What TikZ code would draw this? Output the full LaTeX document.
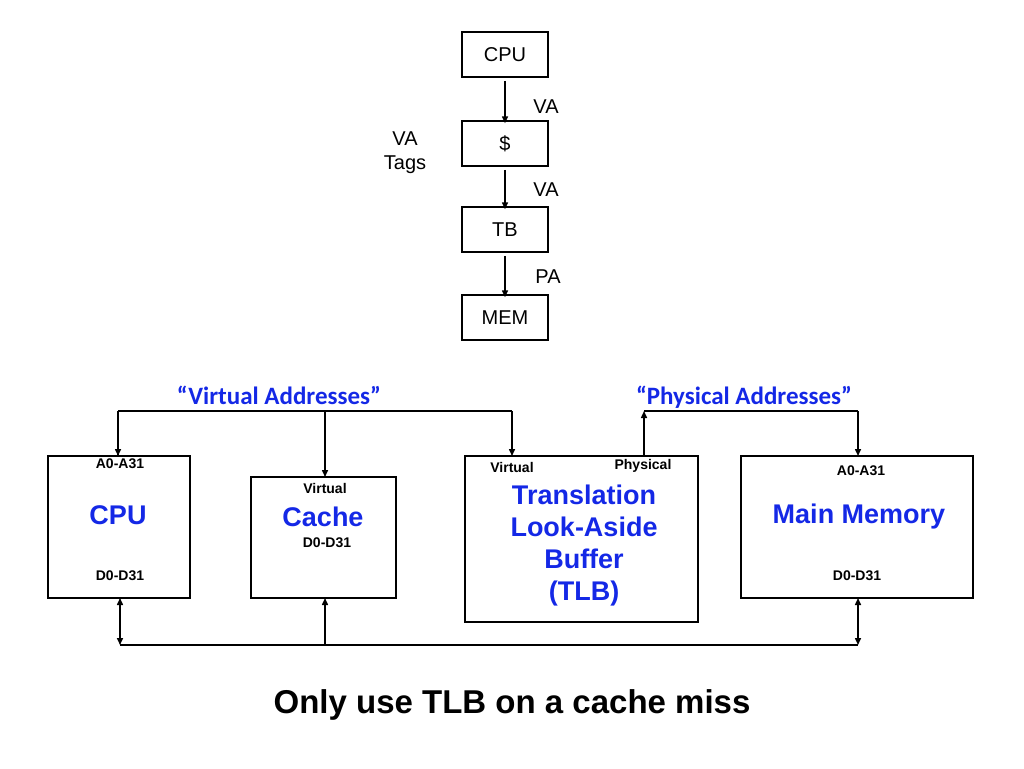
\documentclass[tikz,border=0pt]{standalone}
\usepackage{fontspec}
\setmainfont{Liberation Sans}
\newfontfamily\carl{Carlito}
\usetikzlibrary{arrows.meta}
\definecolor{tblue}{RGB}{20,40,230}
\begin{document}
\begin{tikzpicture}[x=1pt,y=-1pt,
  box/.style={draw,line width=1.5pt},
  arr/.style={-{Triangle[length=7pt,width=6pt]},line width=1.5pt},
  dar/.style={{Triangle[length=7pt,width=6pt]}-{Triangle[length=7pt,width=6pt]},line width=1.5pt},
  lbl/.style={font=\fontsize{20}{24}\selectfont},
  sm/.style={font=\bfseries\fontsize{14}{16}\selectfont},
  big/.style={font=\bfseries\fontsize{27}{31}\selectfont,text=tblue,align=center}]
\useasboundingbox (0,0) rectangle (1024,768);
% top chain
\node[box,minimum width=86pt,minimum height=45pt,lbl] (cpu1) at (505,54.5) {CPU};
\node[box,minimum width=86pt,minimum height=45pt,lbl] (c1) at (505,143.5) {\$};
\node[box,minimum width=86pt,minimum height=45pt,lbl] (tb) at (505,229.5) {TB};
\node[box,minimum width=86pt,minimum height=45pt,lbl] (mem) at (505,317.5) {MEM};
\draw[arr] (cpu1.south)++(0,3) -- ([yshift=-3]c1.north);
\draw[arr] (c1.south)++(0,3) -- ([yshift=-3]tb.north);
\draw[arr] (tb.south)++(0,3) -- ([yshift=-3]mem.north);
\node[lbl] (va1) at (546,107) {VA};
\node[lbl] (va2) at (546,190) {VA};
\node[lbl] (pa) at (548,277) {PA};
\node[lbl,align=center] (vat) at (405,153) {VA\\Tags};
% bottom
\node[font=\carl\bfseries\fontsize{25}{28}\selectfont,text=tblue] (vad) at (279,395) {“Virtual Addresses”};
\node[font=\carl\bfseries\fontsize{25}{28}\selectfont,text=tblue] (pad) at (744,397) {“Physical Addresses”};
\draw[box] (48,456) rectangle (190,598);
\coordinate (cpuT) at (118,456); \coordinate (cpuB) at (120,598);
\node[sm] at (120,464) {A0-A31};
\node[big] at (118,515) {CPU};
\node[sm] at (120,576) {D0-D31};
\draw[box] (251,477) rectangle (396,598);
\coordinate (caT) at (325,477); \coordinate (caB) at (325,598);
\node[sm] at (325,488) {Virtual};
\node[big] at (323,517) {Cache};
\node[sm] at (327,543) {D0-D31};
\draw[box] (465,456) rectangle (698,622);
\coordinate (tlV) at (512,456); \coordinate (tlP) at (644,456);
\node[sm] at (512,467) {Virtual};
\node[sm] at (643,466) {Physical};
\node[big,font=\bfseries\fontsize{27}{32}\selectfont] at (584,546) {Translation\\Look-Aside\\Buffer\\(TLB)};
\draw[box] (741,456) rectangle (973,598);
\coordinate (mmT) at (858,456); \coordinate (mmB) at (858,598);
\node[sm] at (861,471) {A0-A31};
\node[big] at (859,517) {Main Memory};
\node[sm] at (857,576) {D0-D31};
% buses
\coordinate (a1) at (118,411); \coordinate (a2) at (325,411); \coordinate (a3) at (512,411);
\coordinate (p1) at (644,411); \coordinate (p2) at (858,411);
\draw[line width=1.5pt] (a1) -- (a3);
\draw[arr] (a1) -- (cpuT) ; 
\draw[line width=1.5pt] (cpuT) -- (a1);
\draw[arr] (a2) -- (caT);
\draw[arr] (a3) -- (tlV);
\draw[line width=1.5pt] (p1) -- (p2);
\draw[arr] (tlP) -- (p1);
\draw[arr] (p2) -- (mmT);
\coordinate (d1) at (120,645); \coordinate (d2) at (325,645); \coordinate (d3) at (858,645);
\draw[line width=1.5pt] (d1) -- (d3);
\draw[dar] (cpuB) -- (d1);
\draw[arr] (d2) -- (caB);
\draw[dar] (mmB) -- (d3);
\node[font=\bfseries\fontsize{33}{38}\selectfont] (cap) at (512,705) {Only use TLB on a cache miss};
\end{tikzpicture}
\end{document}
